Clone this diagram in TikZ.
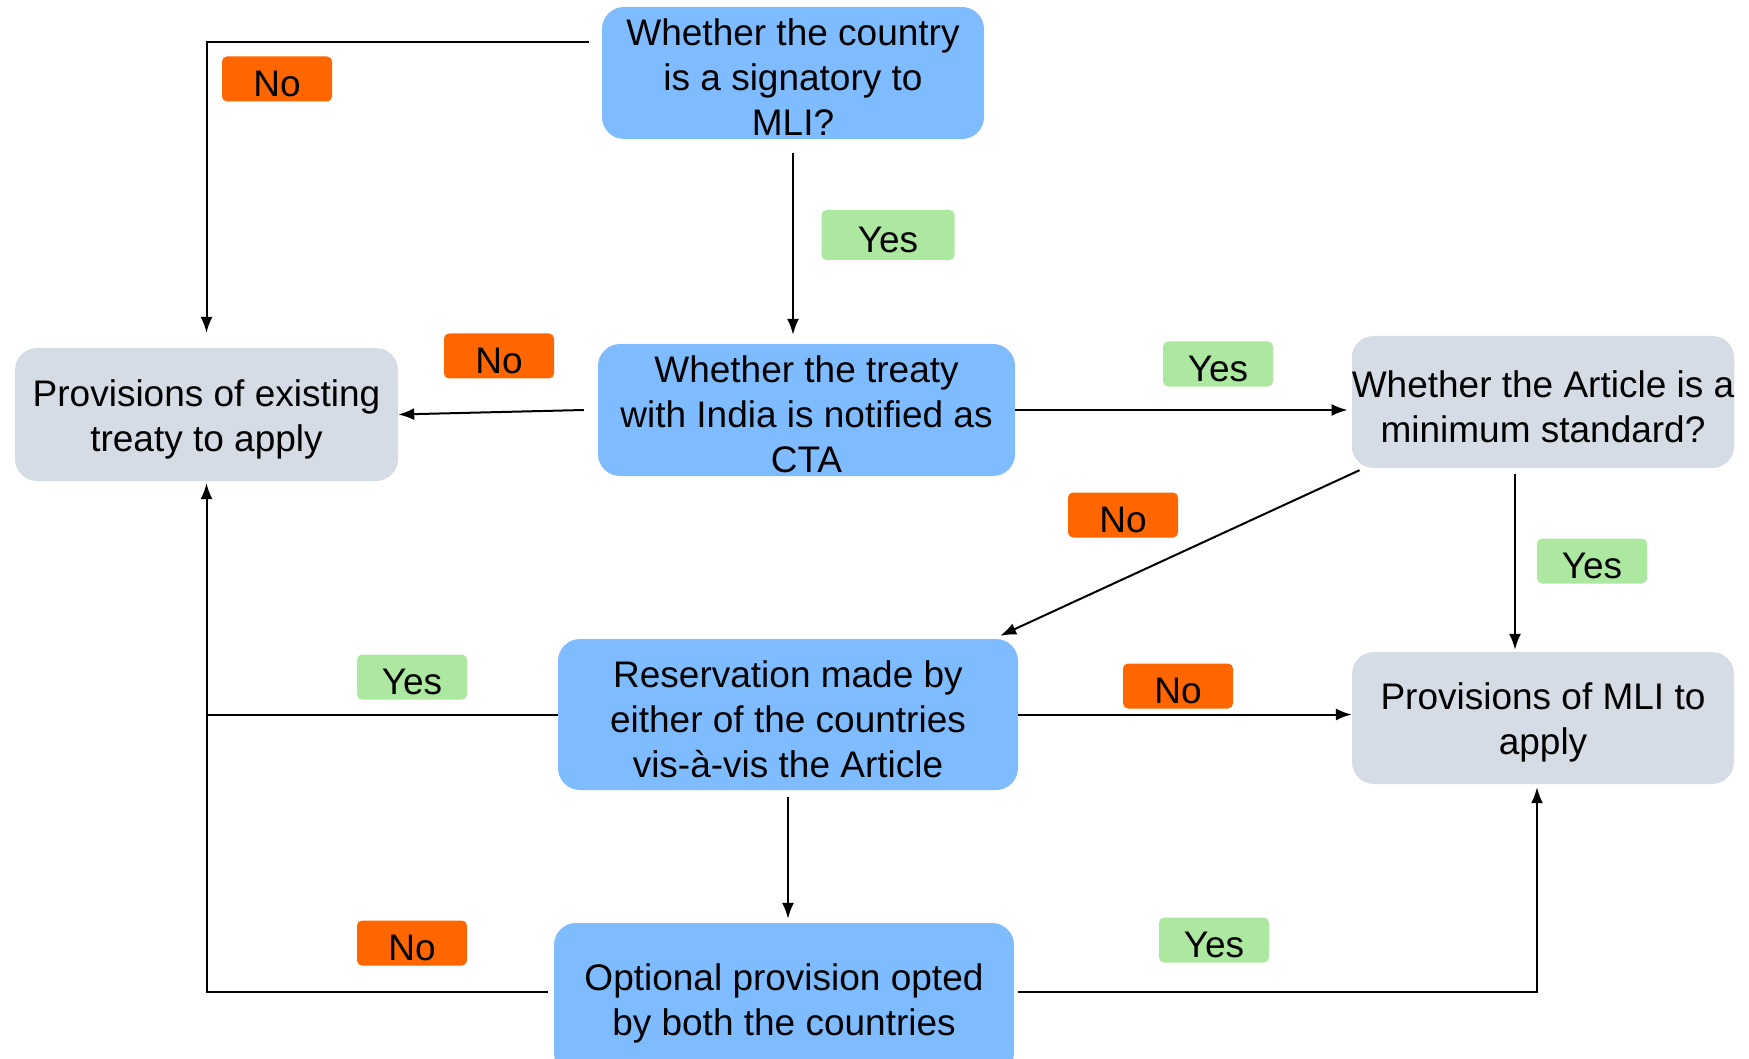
\documentclass[tikz,border=0pt]{standalone}
\usepackage{fontspec}
\setmainfont{Liberation Sans}
\usetikzlibrary{arrows.meta,calc}
\definecolor{boxblue}{RGB}{127,188,255}
\definecolor{boxgray}{RGB}{214,220,229}
\definecolor{lblorange}{RGB}{255,102,0}
\definecolor{lblgreen}{RGB}{173,232,160}
\newcommand{\tsh}{\rule{0pt}{36pt}}
\tikzset{
  basebox/.style={rounded corners=22pt, inner sep=0pt, align=center,
    font=\fontsize{37}{45}\selectfont, text=black},
  bluebox/.style={basebox, fill=boxblue},
  graybox/.style={basebox, fill=boxgray},
  tag/.style={rounded corners=5pt, inner sep=0pt, minimum width=110pt, minimum height=45pt,
    font=\fontsize{37}{45}\selectfont, text=black,
    execute at begin node={\tsh}},
  notag/.style={tag, fill=lblorange},
  yestag/.style={tag, fill=lblgreen},
  conn/.style={line width=2pt, draw=black},
  arr/.style={conn, -{Latex[length=16pt,width=12pt]}},
}
\begin{document}
\begin{tikzpicture}[x=1pt,y=-1pt]
\useasboundingbox (0,0) rectangle (1749,1059);
% boxes
\node[bluebox, minimum width=382pt, minimum height=132pt] (q1) at (793,73)
  {\tsh Whether the country\\is a signatory to\\MLI?};
\node[bluebox, minimum width=417pt, minimum height=132pt] (b2) at (806.5,410)
  {\tsh Whether the treaty\\with India is notified as\\CTA};
\node[graybox, minimum width=383pt, minimum height=133pt] (b3) at (206.5,414.5)
  {\tsh Provisions of existing\\treaty to apply};
\node[graybox, minimum width=382pt, minimum height=132pt] (b4) at (1543,402)
  {\tsh Whether the Article is a\\minimum standard?};
\node[bluebox, minimum width=460pt, minimum height=151pt] (b5) at (788,714.5)
  {\tsh Reservation made by\\either of the countries\\vis-à-vis the Article};
\node[graybox, minimum width=382pt, minimum height=132pt] (b6) at (1543,718)
  {\tsh Provisions of MLI to\\apply};
\node[bluebox, minimum width=460pt, minimum height=152pt] (b7) at (784,999)
  {\tsh Optional provision opted\\by both the countries};
% labels
\node[notag] (l1) at (277,79) {No};
\node[yestag, minimum width=133pt, minimum height=50pt] (l2) at (888,235) {Yes};
\node[notag] (l3) at (499,356) {No};
\node[yestag] (l4) at (1218,364) {Yes};
\node[notag] (l5) at (1123,515) {No};
\node[yestag] (l6) at (1592,561) {Yes};
\node[yestag] (l7) at (412,677) {Yes};
\node[notag] (l8) at (1178,686) {No};
\node[notag] (l9) at (412,943) {No};
\node[yestag] (l10) at (1214,940) {Yes};
% connectors
\draw[arr] ([shift={(-13pt,31pt)}]q1.west) -| ([yshift=15pt]b3.north);
\draw[arr] ([yshift=-14pt]q1.south) -- ([yshift=9pt]b2.north -| q1.south);
\draw[arr] ([xshift=-14pt]b2.west) -- (b3.east);
\draw[arr, shorten >=4pt] (b2.east) -- (b2.east -| b4.west);
\draw[arr] ([shift={(8pt,-2pt)}]b4.south west) -- ([shift={(-18pt,3pt)}]b5.north east);
\draw[arr] ([shift={(-28pt,-6pt)}]b4.south) -- ([shift={(-28pt,2pt)}]b6.north);
\draw[conn] (b5.west) -- (b5.west -| b3.south);
\draw[arr] (b5.east) -- (b5.east -| b6.west);
\draw[arr] ([yshift=-7pt]b5.south) -- ([yshift=4pt]b7.north -| b5.south);
\draw[arr] ([shift={(-6pt,7pt)}]b7.west) -| ([yshift=-2pt]b3.south);
\draw[arr] ([shift={(4pt,7pt)}]b7.east) -| ([shift={(-6pt,-3pt)}]b6.south);
\end{tikzpicture}
\end{document}
